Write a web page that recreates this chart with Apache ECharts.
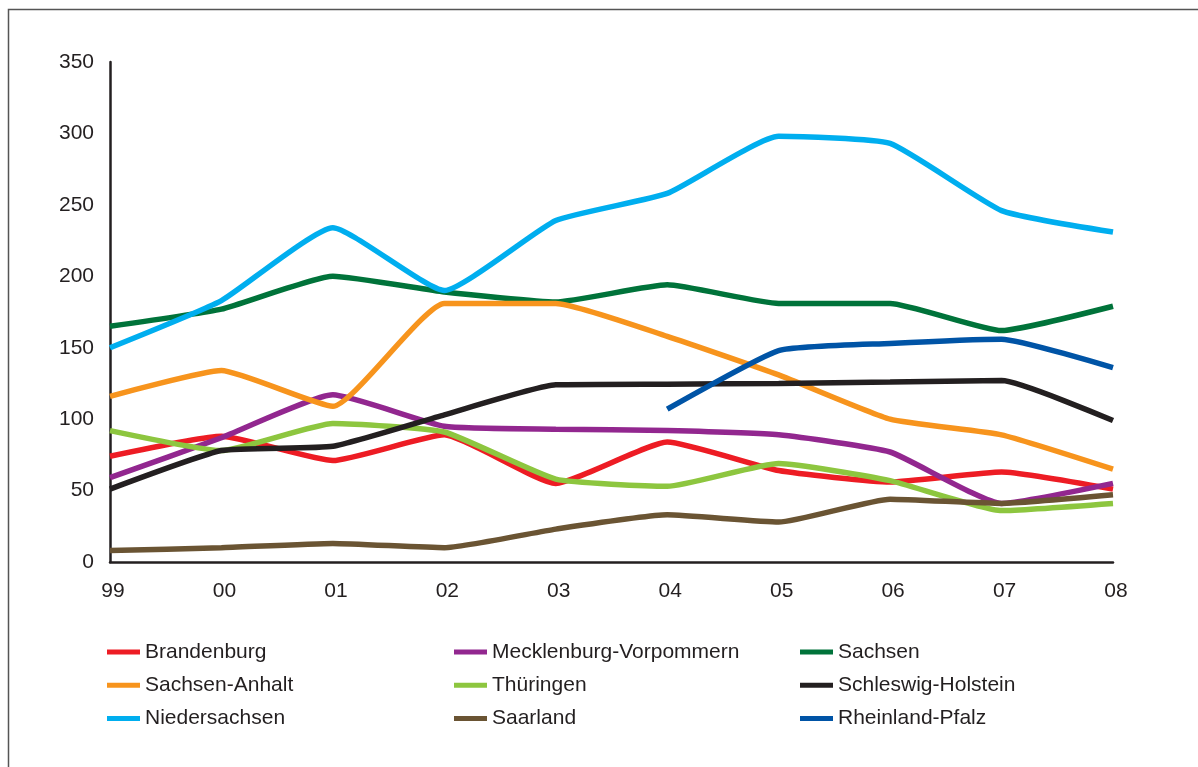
<!DOCTYPE html>
<html>
<head>
<meta charset="utf-8">
<title>Bundesländer 1999-2008</title>
<script src="https://cdn.jsdelivr.net/npm/echarts@6/dist/echarts.min.js"></script>
<style>
  html, body {
    margin: 0;
    padding: 0;
    background: #fff;
  }
  #chart {
    width: 1198px;
    height: 767px;
  }
</style>
</head>
<body>
<div id="chart"></div>
<script>
// x-Achse (Jahre)
var years = ['99', '00', '01', '02', '03', '04', '05', '06', '07', '08']

// Werte je Land
var brandenburg = [74, 88, 71, 89, 55, 84, 64, 56, 63, 51]
var mecklenburg = [59, 87, 117, 95, 93, 92, 89, 77, 41, 55]
var sachsen = [165, 177, 200, 189, 182, 194, 181, 181, 162, 179]
var sachsenAnhalt = [116, 134, 109, 181, 181, 158, 131, 100, 89, 65]
var thueringen = [92, 78, 97, 91, 58, 53, 69, 57, 36, 41]
var schleswig = [51, 78, 81, 103, 124, 124.5, 125, 126, 127, 99]
var niedersachsen = [150, 183, 234, 190, 239, 258, 298, 293, 246, 231]
var saarland = [8, 10, 13, 10, 23, 33, 28, 44, 41, 47]
var rheinland = ['-', '-', '-', '-', '-', 107, 148, 153, 156, 136]

var names = ['Brandenburg', 'Mecklenburg-Vorpommern', 'Sachsen',
  'Sachsen-Anhalt', 'Thüringen', 'Schleswig-Holstein',
  'Niedersachsen', 'Saarland', 'Rheinland-Pfalz']
var values = [brandenburg, mecklenburg, sachsen,
  sachsenAnhalt, thueringen, schleswig,
  niedersachsen, saarland, rheinland]
var colors = ['#ed1c24', '#92278f', '#00733a',
  '#f7941d', '#8dc63f', '#231f20',
  '#00aeef', '#6a5433', '#0054a6']

var textColor = '#231f20'
var font = 'Liberation Sans, Arial, sans-serif'

var series = names.map(function (name, i) {
  return {
    name: name,
    type: 'line',
    data: values[i],
    smooth: 0.15,
    showSymbol: false,
    lineStyle: { width: 5.5, color: colors[i] },
    itemStyle: { color: colors[i] }
  }
})

// Legende: drei Spalten, je drei Einträge
function legendColumn(left, items) {
  return {
    orient: 'vertical',
    left: left,
    top: 636,
    padding: 0,
    itemGap: 1.3,
    itemWidth: 33,
    itemHeight: 5,
    icon: 'rect',
    selectedMode: false,
    textStyle: {
      fontSize: 21,
      fontFamily: font,
      color: textColor,
      lineHeight: 22,
      padding: [0, 0, 10, 0]
    },
    data: items
  }
}

var chart = echarts.init(document.getElementById('chart'))
chart.setOption({
  animation: false,
  color: colors,
  grid: {
    left: 110,
    right: 85,
    top: 62,
    bottom: 205
  },
  xAxis: {
    type: 'category',
    data: years,
    boundaryGap: false,
    axisLine: { lineStyle: { color: textColor, width: 2.5 } },
    axisTick: { show: false },
    axisLabel: {
      fontSize: 21,
      fontFamily: font,
      color: textColor,
      margin: 19,
      padding: [0, 0, 0, 6]
    }
  },
  yAxis: {
    type: 'value',
    min: 0,
    max: 350,
    interval: 50,
    axisLine: { show: true, lineStyle: { color: textColor, width: 2.5 } },
    axisTick: { show: false },
    splitLine: { show: false },
    axisLabel: {
      fontSize: 21,
      fontFamily: font,
      color: textColor,
      margin: 16
    }
  },
  legend: [
    legendColumn(107, [names[0], names[3], names[6]]),
    legendColumn(454, [names[1], names[4], names[7]]),
    legendColumn(800, [names[2], names[5], names[8]])
  ],
  graphic: [
    {
      // Rahmen oben und links
      type: 'polyline',
      silent: true,
      shape: { points: [[8.5, 767], [8.5, 9.5], [1198, 9.5]] },
      style: { stroke: '#555', lineWidth: 1.5, fill: null }
    }
  ],
  series: series
})
</script>
</body>
</html>
